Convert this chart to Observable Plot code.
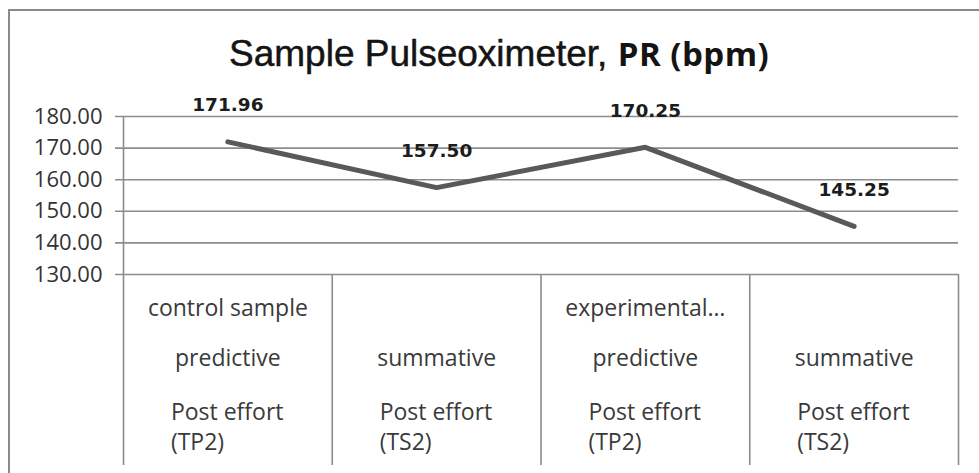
<!DOCTYPE html>
<html>
<head>
<meta charset="utf-8">
<script src="https://cdn.jsdelivr.net/npm/d3@7"></script>
<script src="https://cdn.jsdelivr.net/npm/@observablehq/plot@0.6"></script>
<style>
  html, body { margin: 0; padding: 0; background: #fff; overflow: hidden; width: 979px; height: 473px; }
  #frame { position: absolute; left: 8px; top: 9px; width: 2000px; height: 2000px;
           border-top: 2px solid #8a8a8a; border-left: 2px solid #8a8a8a; pointer-events: none; }
  #title { position: relative; height: 80px; }
  #title .t { position: absolute; left: 229px; top: 31px; white-space: nowrap;
              font: 37px "Liberation Sans", Arial, sans-serif; line-height: 40px; color: #141414;
              -webkit-text-stroke: 0.5px #141414; }
  #title .b { font: bold 33px "Open Sans", sans-serif; -webkit-text-stroke: 0; letter-spacing: 0.5px; }
  #chart { position: relative; }
</style>
</head>
<body>
<div id="frame"></div>
<div id="title"><div class="t">Sample Pulseoximeter, <span class="b">PR (bpm)</span></div></div>
<div id="chart"></div>
<script>
// ---- data ----
const groupLabels = ["control sample", "", "experimental…", ""];
const phaseLabels = ["predictive", "summative", "predictive", "summative"];
const timeLabels = ["Post effort\n(TP2)", "Post effort\n(TS2)", "Post effort\n(TP2)", "Post effort\n(TS2)"];
const values = [171.96, 157.50, 170.25, 145.25];
const yTicks = [130, 140, 150, 160, 170, 180];

const fmt = d3.format(".2f");
const data = values.map((v, i) => ({pos: i + 0.5, v}));
const bounds = d3.range(1, values.length + 1);
const grey = "#8c8c8c";
const catFont = "'Open Sans', sans-serif";

const plot = Plot.plot({
  width: 979,
  height: 393,
  marginLeft: 123,
  marginRight: 21,
  marginTop: 36,
  marginBottom: 199,
  style: {background: "transparent", fontFamily: catFont, fontSize: "22px", color: "#333333", overflow: "visible"},
  x: {domain: [0, values.length], axis: null},
  y: {domain: [yTicks[0], yTicks[yTicks.length - 1]], ticks: yTicks, tickFormat: fmt, tickSize: 0, tickPadding: 21, label: null},
  marks: [
    Plot.ruleY(yTicks, {stroke: grey, strokeWidth: 1.6, insetLeft: -8}),
    Plot.ruleX([0], {stroke: grey, strokeWidth: 1.6, insetBottom: -191}),
    Plot.ruleX(bounds, {y1: yTicks[0], y2: yTicks[0], stroke: grey, strokeWidth: 1.6, insetBottom: -191}),
    Plot.line(data, {x: "pos", y: "v", stroke: "#595959", strokeWidth: 5}),
    Plot.text(data, {x: "pos", y: "v", text: d => fmt(d.v), dy: -36.5, fontWeight: "bold",
      fontSize: 18.5, fontFamily: "'DejaVu Sans', sans-serif", fill: "#1c1c1c"}),
    Plot.text(groupLabels, {x: (d, i) => i + 0.5, text: d => d, frameAnchor: "bottom", dy: 34,
      lineAnchor: "middle", fontSize: 23, fill: "#3a3a3a"}),
    Plot.text(phaseLabels, {x: (d, i) => i + 0.5, text: d => d, frameAnchor: "bottom", dy: 84,
      lineAnchor: "middle", fontSize: 23, fill: "#3a3a3a"}),
    Plot.text(timeLabels, {x: (d, i) => i + 0.5, text: d => d, frameAnchor: "bottom", dy: 151,
      lineAnchor: "middle", textAnchor: "start", dx: -57, lineHeight: 1.3, fontSize: 23, fill: "#3a3a3a"})
  ]
});
document.getElementById("chart").appendChild(plot);
</script>
</body>
</html>
